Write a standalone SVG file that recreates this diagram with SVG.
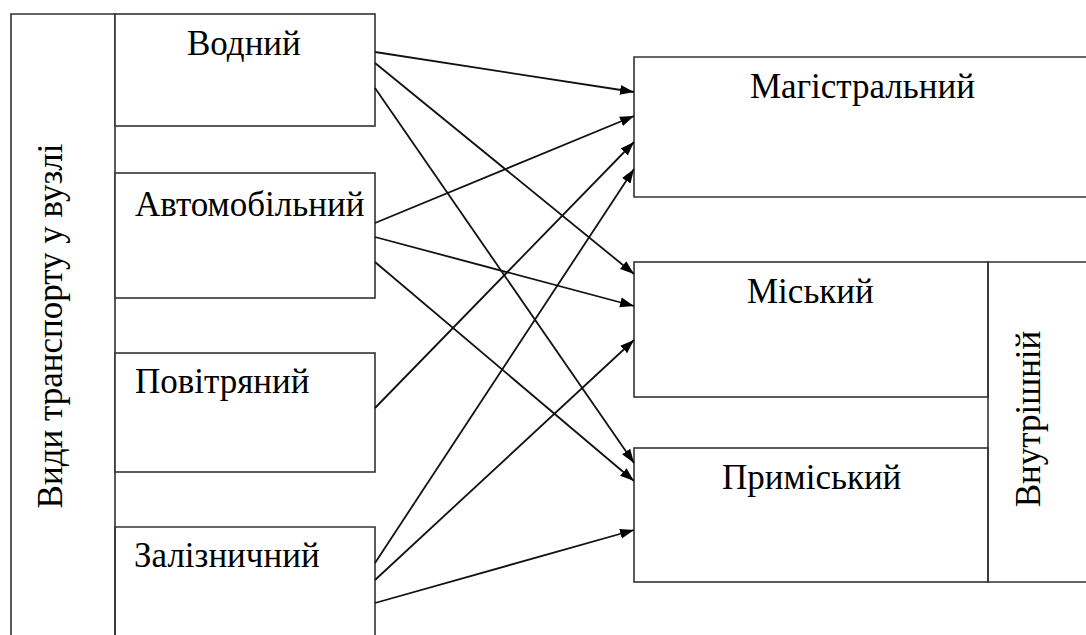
<svg xmlns="http://www.w3.org/2000/svg" width="1086" height="635" viewBox="0 0 1086 635">
<defs>
<style>
.box{fill:#fff;stroke:#333;stroke-width:1.6}
.ln{fill:none;stroke:#333;stroke-width:1.6}
.t{font-family:'Liberation Serif','Times New Roman',serif;font-size:35px;fill:#000}
.c{stroke:#111;stroke-width:1.8;fill:none;marker-end:url(#ah)}
</style>
<marker id="ah" markerUnits="userSpaceOnUse" markerWidth="15" markerHeight="12" refX="14" refY="5" orient="auto" viewBox="0 0 15 10">
<path d="M0,0 L14,5 L0,10 Z" fill="#000"/>
</marker>
</defs>
<rect width="1086" height="635" fill="#fff"/>
<g id="vydy">
<path class="ln" d="M11,640 V14 H115 V640"/>
<text class="t" transform="translate(62,326) rotate(-90)" text-anchor="middle">Види транспорту у вузлі</text>
</g>
<g id="vodnyi">
<rect class="box" x="115" y="14" width="260" height="112"/>
<text class="t" x="187" y="55">Водний</text>
</g>
<g id="avto">
<rect class="box" x="115" y="173" width="260" height="125"/>
<text class="t" x="135" y="216">Автомобільний</text>
</g>
<g id="povitr">
<rect class="box" x="115" y="353" width="260" height="119"/>
<text class="t" x="135" y="393">Повітряний</text>
</g>
<g id="zaliz">
<path class="ln" d="M115,640 V527 H375 V640"/>
<text class="t" x="134" y="567">Залізничний</text>
</g>
<g id="magistr">
<path class="ln" d="M1090,57 H634 V197 H1090"/>
<text class="t" x="750" y="98">Магістральний</text>
</g>
<g id="misk">
<rect class="box" x="634" y="262" width="354" height="135"/>
<text class="t" x="747" y="303">Міський</text>
</g>
<g id="prymisk">
<rect class="box" x="634" y="448" width="354" height="134"/>
<text class="t" x="722" y="489">Приміський</text>
</g>
<g id="vnutr">
<path class="ln" d="M1090,262 H988 V582 H1090"/>
<text class="t" transform="translate(1040,419) rotate(-90)" text-anchor="middle">Внутрішній</text>
</g>
<g id="connectors">
<line class="c" x1="375" y1="52" x2="634" y2="92"/>
<line class="c" x1="375" y1="63" x2="634" y2="274"/>
<line class="c" x1="375" y1="88" x2="634" y2="463"/>
<line class="c" x1="375" y1="223" x2="634" y2="116"/>
<line class="c" x1="375" y1="237" x2="634" y2="306"/>
<line class="c" x1="375" y1="262" x2="634" y2="481"/>
<line class="c" x1="375" y1="408" x2="634" y2="142"/>
<line class="c" x1="375" y1="563" x2="634" y2="169"/>
<line class="c" x1="375" y1="580" x2="634" y2="340"/>
<line class="c" x1="375" y1="603" x2="634" y2="530"/>
</g>
</svg>
